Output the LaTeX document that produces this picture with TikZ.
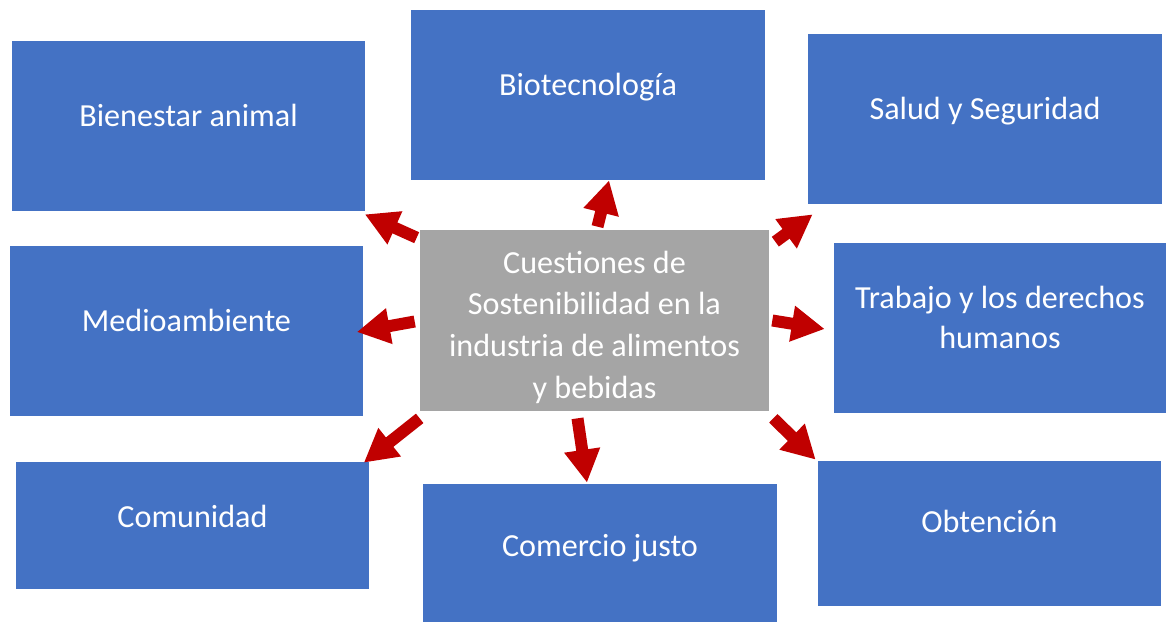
\documentclass[tikz,border=0pt]{standalone}
\usepackage{fontspec}
\setmainfont{Carlito}
\usetikzlibrary{arrows.meta}
\definecolor{boxblue}{HTML}{4472C4}
\definecolor{boxgray}{HTML}{A5A5A5}
\definecolor{arrred}{HTML}{C00000}
% text a little above the middle of the box
\newcommand{\boxtxt}[2][0pt]{\raisebox{#1}[0pt][0pt]{\begin{tabular}{@{}c@{}}#2\end{tabular}}}
\tikzset{
    topic/.style={fill=boxblue, text=white, inner sep=0pt, minimum width=7.08cm, minimum height=3.4cm, font=\fontsize{18.3}{22.8}\selectfont},
    hub/.style={topic, fill=boxgray, minimum width=6.98cm, minimum height=3.62cm, font=\fontsize{18.3}{23.7}\selectfont},
    redarrow/.style={draw=arrred, line width=2.4mm, -{Triangle[length=6.6mm, width=6.8mm]}}
}
\begin{document}
\begin{tikzpicture}[x=0.02cm, y=-0.02cm]
    \useasboundingbox (0,0) rectangle (1167,623);
    \node[hub] (hub) at (594.5,320.5) {\boxtxt[-2.9mm]{Cuestiones de\\Sostenibilidad en la\\industria de alimentos\\y bebidas}};
    \node[topic] (bien) at (188.5,126) {\boxtxt{Bienestar animal}};
    \node[topic] (bio) at (588,95) {\boxtxt{Biotecnología}};
    \node[topic] (salud) at (985,119) {\boxtxt{Salud y Seguridad}};
    \node[topic] (medio) at (186.5,331) {\boxtxt{Medioambiente}};
    \node[topic, minimum width=6.64cm] (trab) at (1000,328) {\boxtxt{Trabajo y los derechos\\humanos}};
    \node[topic, minimum height=2.54cm] (comu) at (192.5,525.5) {\boxtxt[-0.3mm]{Comunidad}};
    \node[topic, minimum height=2.76cm] (comer) at (600,553) {\boxtxt[-0.6mm]{Comercio justo}};
    \node[topic, minimum width=6.86cm, minimum height=2.9cm] (obt) at (989.5,533.5) {\boxtxt[0.3mm]{Obtención}};
    % arrows out of the hub
    \draw[redarrow] ([shift={(-3,8)}]hub.north west) -- ([shift={(-1,3)}]bien.south east);
    \draw[redarrow] ([shift={(3,-3)}]hub.north) -- ([xshift=12]bio.south);
    \draw[redarrow] ([shift={(6,12)}]hub.north east) -- ([shift={(5,10)}]salud.south west);
    \draw[redarrow] ([shift={(-5,1)}]hub.west) -- ([shift={(-7,1)}]medio.east);
    \draw[redarrow] ([shift={(3,0)}]hub.east) -- ([shift={(-9,1)}]trab.west);
    \draw[redarrow] ([shift={(0,7)}]hub.south west) -- ([shift={(-6,1)}]comu.north east);
    \draw[redarrow] ([shift={(-17,7)}]hub.south) -- ([shift={(-13,-1)}]comer.north);
    \draw[redarrow] ([shift={(4,7)}]hub.south east) -- ([shift={(-2,-1)}]obt.north west);
\end{tikzpicture}
\end{document}
